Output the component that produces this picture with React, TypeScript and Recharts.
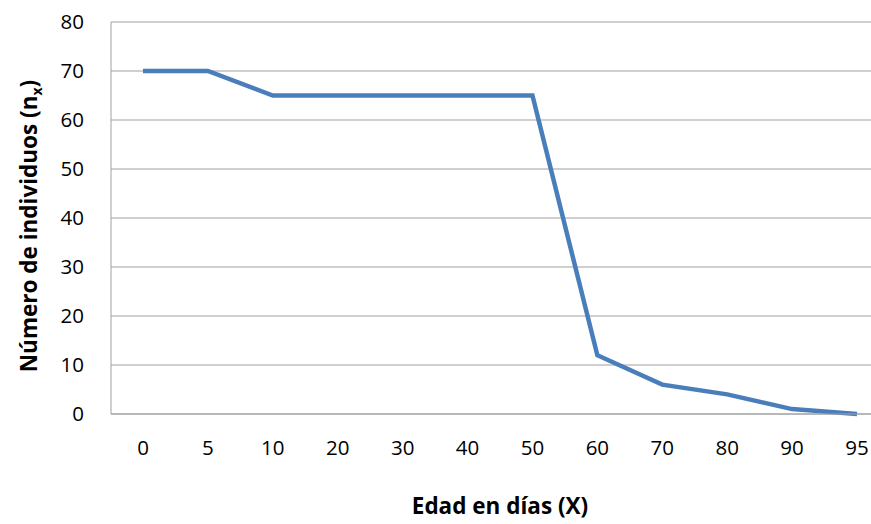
import React from 'react'
import { LineChart, Line, XAxis, YAxis, CartesianGrid } from 'recharts'

const AGES = ['0', '5', '10', '20', '30', '40', '50', '60', '70', '80', '90', '95']
const NX = [70, 70, 65, 65, 65, 65, 65, 12, 6, 4, 1, 0]
const Y_TICKS = [0, 10, 20, 30, 40, 50, 60, 70, 80]

const FONT = '"Open Sans", "Liberation Sans", sans-serif'
const BLUE = '#4a7ebb'
const GRID = '#a0a0a0'

const data = AGES.map((age, i) => ({ age, nx: NX[i] }))

function YTitle() {
  return (
    <text
      x={0}
      y={0}
      transform="translate(37, 226) rotate(-90)"
      textAnchor="middle"
      fontFamily={FONT}
      fontSize={22.5}
      fontWeight="bold"
      fill="#000"
    >
      Número de individuos (n
      <tspan fontSize={14} dy={5}>
        x
      </tspan>
      <tspan dy={-5}>)</tspan>
    </text>
  )
}

export default function App() {
  return (
    <div
      style={{
        position: 'fixed',
        left: 0,
        top: 0,
        width: 871,
        height: 524,
        overflow: 'hidden',
        background: '#fff',
      }}
    >
      <LineChart
        width={900}
        height={524}
        data={data}
        margin={{ top: 22, right: 11, bottom: 0, left: 0 }}
      >
        <CartesianGrid vertical={false} stroke={GRID} strokeWidth={1} />
        <XAxis
          dataKey="age"
          axisLine={{ stroke: GRID }}
          tickLine={false}
          tickSize={0}
          tickMargin={26}
          height={110}
          interval={0}
          padding={{ left: 32, right: 32 }}
          tick={{ fill: '#000', fontSize: 20.5, fontFamily: FONT }}
          label={{
            value: 'Edad en días (X)',
            position: 'insideBottom',
            offset: 10,
            fill: '#000',
            fontSize: 22.5,
            fontWeight: 'bold',
            fontFamily: FONT,
          }}
        />
        <YAxis
          domain={[0, 80]}
          ticks={Y_TICKS}
          axisLine={{ stroke: GRID }}
          tickLine={false}
          tickSize={0}
          tickMargin={27}
          width={111}
          tick={{ fill: '#000', fontSize: 20.5, fontFamily: FONT }}
          label={<YTitle />}
        />
        <Line
          type="linear"
          dataKey="nx"
          stroke={BLUE}
          strokeWidth={4.5}
          dot={false}
          isAnimationActive={false}
        />
      </LineChart>
    </div>
  )
}
